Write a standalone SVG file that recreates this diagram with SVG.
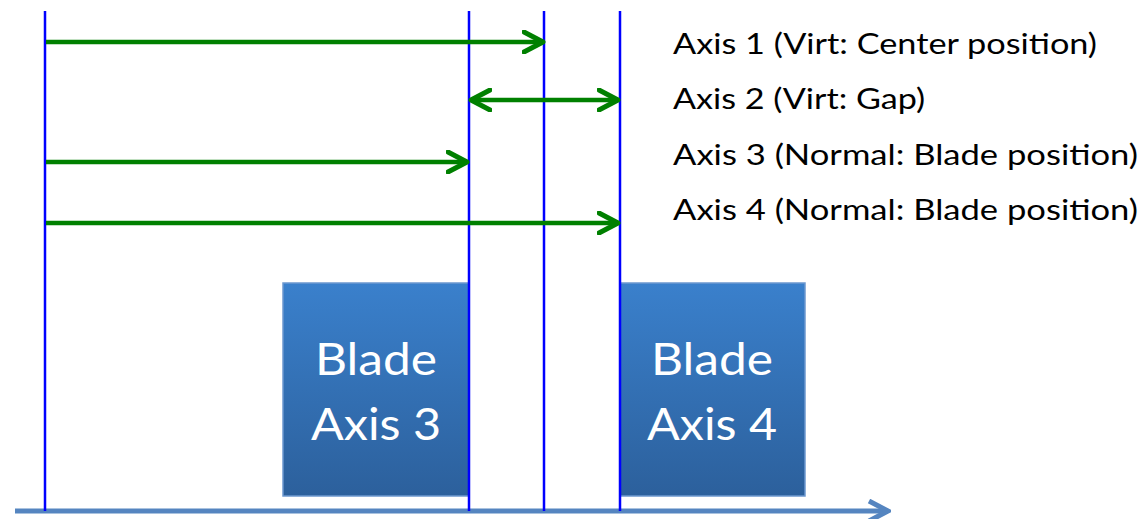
<svg xmlns="http://www.w3.org/2000/svg" width="1144" height="519" viewBox="0 0 1144 519">
  <defs>
    <linearGradient id="bladeFill" x1="0" y1="0" x2="0" y2="1">
      <stop offset="0" stop-color="#3a80cc"/>
      <stop offset="1" stop-color="#2c609c"/>
    </linearGradient>
    <marker id="chev" viewBox="0 0 24 24" refX="21" refY="12" markerWidth="24" markerHeight="24" markerUnits="userSpaceOnUse" orient="auto-start-reverse">
      <path d="M2 2 L21 12 L2 22" fill="none" stroke="#008000" stroke-width="5" stroke-linecap="round" stroke-linejoin="round"/>
    </marker>
    <marker id="axisChev" viewBox="0 0 24 24" refX="21" refY="12" markerWidth="24" markerHeight="24" markerUnits="userSpaceOnUse" orient="auto">
      <path d="M2 2 L21 12 L2 22" fill="none" stroke="#5585c0" stroke-width="5" stroke-linejoin="miter"/>
    </marker>
  </defs>
  <style>
    .blade { fill: url(#bladeFill); stroke: #6c98cf; stroke-width: 1.5; }
    .bladeText { font-family: Lato, "Open Sans", "Liberation Sans", sans-serif; font-size: 45px; fill: #ffffff; text-anchor: middle; }
    .label { font-family: Lato, "Open Sans", "Liberation Sans", sans-serif; font-size: 28.5px; fill: #000000; }
    .pos { stroke: #0000ff; stroke-width: 2.5; fill: none; }
    .meas { stroke: #008000; stroke-width: 4.5; fill: none; }
  </style>

  <rect width="1144" height="519" fill="#ffffff"/>

  <!-- base axis -->
  <g id="base-axis">
    <line x1="15" y1="511" x2="888" y2="511" stroke="#5585c0" stroke-width="5" marker-end="url(#axisChev)"/>
  </g>

  <!-- blades -->
  <g id="blade-axis-3">
    <rect class="blade" x="283" y="283" width="186" height="213"/>
    <text class="bladeText" x="376" y="375" textLength="122" lengthAdjust="spacingAndGlyphs">Blade</text>
    <text class="bladeText" x="376" y="440" textLength="130" lengthAdjust="spacingAndGlyphs">Axis 3</text>
  </g>
  <g id="blade-axis-4">
    <rect class="blade" x="620" y="283" width="185" height="213"/>
    <text class="bladeText" x="712" y="375" textLength="122" lengthAdjust="spacingAndGlyphs">Blade</text>
    <text class="bladeText" x="712" y="440" textLength="130" lengthAdjust="spacingAndGlyphs">Axis 4</text>
  </g>

  <!-- position lines -->
  <g id="positions">
    <line class="pos" x1="45" y1="11" x2="45" y2="511"/>
    <line class="pos" x1="469" y1="11" x2="469" y2="511"/>
    <line class="pos" x1="544" y1="11" x2="544" y2="511"/>
    <line class="pos" x1="620" y1="11" x2="620" y2="511"/>
  </g>

  <!-- measurement arrows -->
  <g id="connectors">
    <line class="meas" x1="46" y1="42" x2="543" y2="42" marker-end="url(#chev)"/>
    <line class="meas" x1="471" y1="100" x2="618" y2="100" marker-start="url(#chev)" marker-end="url(#chev)"/>
    <line class="meas" x1="46" y1="162" x2="467" y2="162" marker-end="url(#chev)"/>
    <line class="meas" x1="46" y1="223" x2="618" y2="223" marker-end="url(#chev)"/>
  </g>

  <!-- axis labels -->
  <g id="labels">
    <text class="label" x="673" y="54" textLength="424" lengthAdjust="spacingAndGlyphs">Axis 1 (Virt: Center position)</text>
    <text class="label" x="673" y="109" textLength="252" lengthAdjust="spacingAndGlyphs">Axis 2 (Virt: Gap)</text>
    <text class="label" x="673" y="165" textLength="465" lengthAdjust="spacingAndGlyphs">Axis 3 (Normal: Blade position)</text>
    <text class="label" x="673" y="220" textLength="465" lengthAdjust="spacingAndGlyphs">Axis 4 (Normal: Blade position)</text>
  </g>
</svg>
